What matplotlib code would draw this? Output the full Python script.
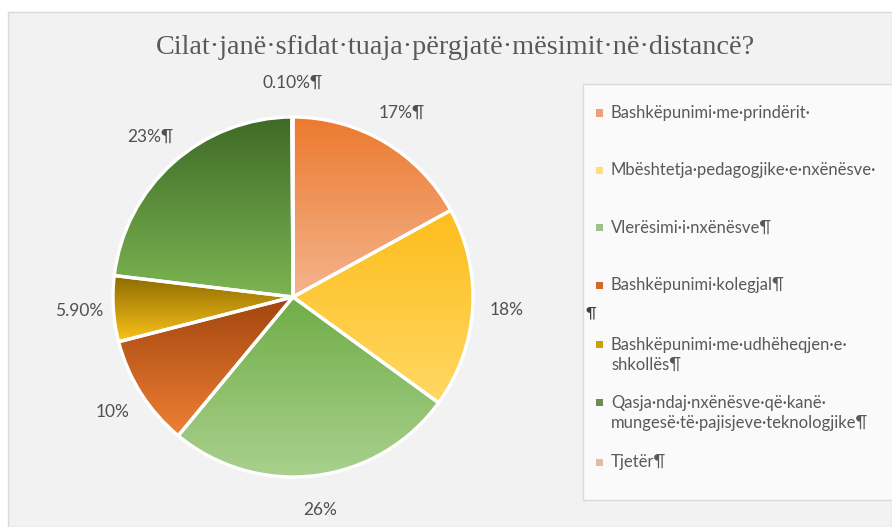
import matplotlib
matplotlib.use("Agg")
import matplotlib.pyplot as plt
import numpy as np
from matplotlib.colors import LinearSegmentedColormap
from matplotlib.patches import Rectangle

plt.rcParams['font.family'] = ['Lato', 'DejaVu Sans']

title = "Cilat·janë·sfidat·tuaja·përgjatë·mësimit·në·distancë?"
categories = ["Bashkëpunimi·me·prindërit·",
              "Mbështetja·pedagogjike·e·nxënësve·",
              "Vlerësimi·i·nxënësve¶",
              "Bashkëpunimi·kolegjal¶",
              "Bashkëpunimi·me·udhëheqjen·e·\nshkollës¶",
              "Qasja·ndaj·nxënësve·që·kanë·\nmungesë·të·pajisjeve·teknologjike¶",
              "Tjetër¶"]
values = [17, 18, 26, 10, 5.9, 23, 0.1]
value_labels = ["17%¶", "18%", "26%", "10%", "5.90%", "23%¶", "0.10%¶"]
# gradient top -> bottom for every slice
grad_top = ["#ec7a2e", "#fdbd1c", "#70ad47", "#a2450e", "#8c6a00", "#3e6a26", "#f4b183"]
grad_bottom = ["#f4b48e", "#ffd863", "#a9d18e", "#ef8035", "#fbc31a", "#7cb553", "#f4b183"]
legend_colors = ["#e9a27c", "#fbe07a", "#9fc08c", "#d2692e", "#c9a208", "#6b8c56", "#e8b9a2"]

W, H = 892, 527
fig = plt.figure(figsize=(W / 100, H / 100), dpi=100, facecolor="white")

# chart area and legend box
fig.patches.append(Rectangle((8 / W, 0), 884 / W, 515 / H, transform=fig.transFigure,
                             facecolor="#f2f2f2", edgecolor="#d9d9d9", lw=1, zorder=-10))
fig.patches.append(Rectangle((583 / W, 27 / H), 320 / W, 416 / H, transform=fig.transFigure,
                             facecolor="#fafafa", edgecolor="#d9d9d9", lw=1, zorder=-9))

fig.text(455 / W, 1 - 47 / H, title, ha="center", va="center", fontsize=20.3,
         family=["Liberation Serif", "DejaVu Serif"], color="#595959")

# pie axes: centre (293, 297) px, radius 180 px
cx, cy, r = 293, 297, 180
half = 1.4 * r
ax = fig.add_axes([(cx - half) / W, (H - cy - half) / H, 2 * half / W, 2 * half / H])
wedges, texts = ax.pie(values, labels=value_labels, startangle=90, counterclock=False,
                       labeldistance=1.19, colors=grad_top,
                       wedgeprops=dict(edgecolor="white", linewidth=2.4),
                       textprops=dict(fontsize=12.5, color="#505050"))
for w, top, bot in zip(wedges, grad_top, grad_bottom):
    bb = w.get_path().get_extents()
    cmap = LinearSegmentedColormap.from_list("g", [bot, top])
    grad = np.linspace(0, 1, 256).reshape(-1, 1)
    im = ax.imshow(grad, cmap=cmap, origin="lower", aspect="auto",
                   extent=(bb.x0, bb.x1, bb.y0, bb.y1), zorder=w.get_zorder() - 0.01)
    im.set_clip_path(w)
    w.set_facecolor("none")
for t in texts:
    t.set_ha("center")
    t.set_va("center")
ax.set_xlim(-1.4, 1.4)
ax.set_ylim(-1.4, 1.4)
ax.axis("off")

# legend
legend_y = [113, 170, 228, 285, 355, 413, 462]
for lab, col, y in zip(categories, legend_colors, legend_y):
    nlines = lab.count("\n") + 1
    top_line = y - (nlines - 1) * 10.5
    fig.patches.append(Rectangle((596 / W, 1 - (top_line + 3.5) / H), 7 / W, 7 / H,
                                 transform=fig.transFigure, facecolor=col, lw=0))
    fig.text(611 / W, 1 - y / H, lab, ha="left", va="center", fontsize=12,
             color="#595959", linespacing=1.3)
fig.text(585 / W, 1 - 313 / H, "¶", ha="left", va="center", fontsize=11, color="#404040")

fig.savefig("out.png", dpi=100, facecolor="white")
